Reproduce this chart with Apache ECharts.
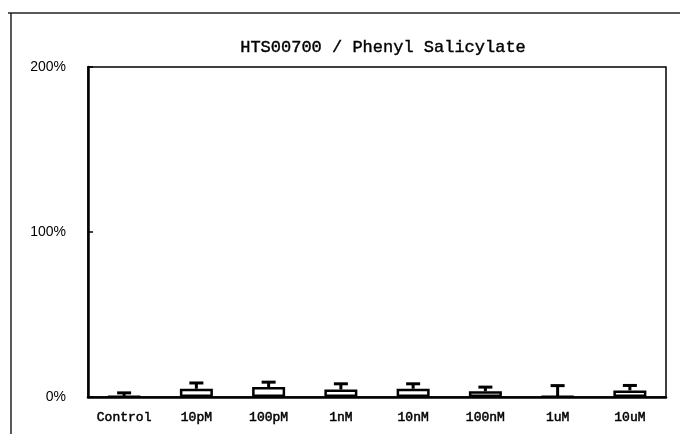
<!DOCTYPE html>
<html>
<head>
<meta charset="utf-8">
<script src="https://cdn.jsdelivr.net/npm/echarts@6/dist/echarts.min.js"></script>
<style>
  html, body { margin: 0; padding: 0; background: #fff; }
  #chart { width: 680px; height: 434px; }
</style>
</head>
<body>
<div id="chart"></div>
<script>
// Concentration groups and response (% of control) with error
const categories = ['Control', '10pM', '100pM', '1nM', '10nM', '100nM', '1uM', '10uM'];
const meanValues = [0.3, 5, 6, 4.5, 5, 3.5, 0.4, 4];
const errValues  = [2.2, 3.5, 3, 3.5, 3, 2.5, 6.5, 3];
const yTicks = [0, 100, 200];

const chart = echarts.init(document.getElementById('chart'));

const errData = categories.map((c, i) => [i, meanValues[i], meanValues[i] + errValues[i]]);

const monoFont = 'Liberation Mono, DejaVu Sans Mono, monospace';

const option = {
  animation: false,
  backgroundColor: '#fff',
  title: {
    text: 'HTS00700 / Phenyl Salicylate',
    left: 378,
    textAlign: 'center',
    top: 34,
    textStyle: { fontFamily: monoFont, fontSize: 17, fontWeight: 'normal', color: '#000', textBorderColor: '#000', textBorderWidth: 0.4 }
  },
  graphic: [
    { type: 'line', shape: { x1: 8, y1: 13, x2: 680, y2: 13 }, style: { stroke: '#222', lineWidth: 1.5 } },
    { type: 'line', shape: { x1: 11, y1: 13, x2: 11, y2: 434 }, style: { stroke: '#222', lineWidth: 1.5 } }
  ],
  grid: { left: 88, right: 14, top: 67, bottom: 37, show: true, borderColor: '#000', borderWidth: 1.5, backgroundColor: 'transparent' },
  xAxis: {
    type: 'category',
    data: categories,
    boundaryGap: true,
    axisLine: { lineStyle: { color: '#000', width: 2.5 } },
    axisTick: { inside: true, length: 6, lineStyle: { color: '#000', width: 1.5 } },
    axisLabel: {
      interval: 0, color: '#000', fontFamily: monoFont, fontSize: 13, margin: 14,
      textBorderColor: '#000', textBorderWidth: 0.5
    }
  },
  yAxis: {
    type: 'value',
    min: yTicks[0],
    max: yTicks[yTicks.length - 1],
    interval: 100,
    axisLine: { show: true, lineStyle: { color: '#000', width: 2.5 } },
    axisTick: { show: true, inside: true, length: 5, lineStyle: { color: '#000', width: 1.5 } },
    splitLine: { show: false },
    axisLabel: {
      color: '#000', fontFamily: 'Liberation Sans, sans-serif', fontSize: 14, margin: 22,
      formatter: v => v + '%'
    }
  },
  series: [
    {
      type: 'bar',
      data: meanValues,
      barWidth: 33,
      itemStyle: { color: '#fff', borderColor: '#000', borderWidth: 2.5 },
      z: 2
    },
    {
      type: 'custom',
      data: errData,
      z: 3,
      renderItem: function (params, api) {
        const i = api.value(0);
        const lo = api.coord([i, api.value(1)]);
        const hi = api.coord([i, api.value(2)]);
        const half = 7;
        return {
          type: 'group',
          children: [
            { type: 'line', shape: { x1: lo[0], y1: lo[1], x2: hi[0], y2: hi[1] }, style: { stroke: '#000', lineWidth: 3 } },
            { type: 'line', shape: { x1: hi[0] - half, y1: hi[1], x2: hi[0] + half, y2: hi[1] }, style: { stroke: '#000', lineWidth: 3 } }
          ]
        };
      }
    }
  ]
};

chart.setOption(option);
</script>
</body>
</html>
